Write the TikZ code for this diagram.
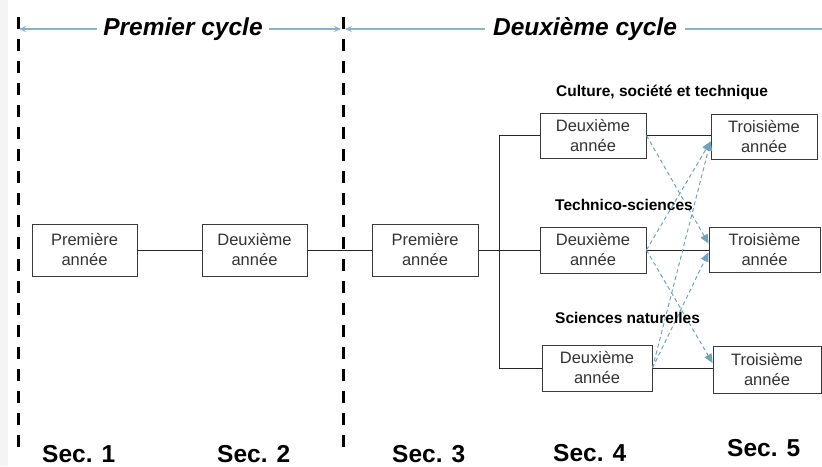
\documentclass[tikz,border=0pt]{standalone}
\usepackage{fontspec}
\setmainfont{Liberation Sans}
\usetikzlibrary{arrows.meta,calc}
\definecolor{arrblue}{HTML}{8AB2C8}
\definecolor{dashblue}{HTML}{6FA3BF}
\definecolor{boxline}{HTML}{3A3A3A}
\definecolor{boxtext}{HTML}{333333}
\begin{document}
\begin{tikzpicture}[x=1pt,y=-1pt,
  yearbox/.style={draw=boxline, line width=0.9pt, fill=white, align=center,
    inner sep=0pt, text=boxtext, font=\fontsize{16.5}{20}\selectfont},
  cyclesep/.style={line width=3pt, dash pattern=on 12pt off 10pt},
  cycletitle/.style={font=\fontsize{24.5}{28}\selectfont\bfseries\itshape, inner xsep=6pt, inner ysep=0pt},
  toparrow/.style={draw=arrblue, line width=1.1pt, -{Stealth[length=7pt,width=6pt]}},
  topline/.style={draw=arrblue, line width=1.1pt},
  link/.style={draw=black!85, line width=0.9pt},
  cross/.style={draw=dashblue, line width=1pt, dash pattern=on 4pt off 3pt,
    -{Triangle[length=9pt,width=8pt]}},
  streamlabel/.style={font=\fontsize{15.5}{18}\selectfont\bfseries, inner sep=0pt, anchor=base west},
  seclabel/.style={font=\fontsize{24.5}{28}\selectfont\bfseries, inner sep=0pt, anchor=base west}
]
\useasboundingbox (0,0) rectangle (822,466);
\fill[gray!9] (0,0) rectangle (8,466);

% vertical separators
\coordinate (v1top) at (18,17);
\coordinate (v1bot) at (18,447);
\coordinate (v2top) at (343,17);
\coordinate (v2bot) at (343,447);
\draw[cyclesep] (v1top) -- (v1bot);
\draw[cyclesep] (v2top) -- (v2bot);

% cycle titles
\node[cycletitle] (pc) at (183,29) {Premier cycle};
\node[cycletitle, inner xsep=8pt] (dc) at (585,29) {Deuxième cycle};
\coordinate (a1) at (19,29);
\coordinate (a2) at (341,29);
\coordinate (a3) at (345,29);
\coordinate (a4) at (822,29);
\draw[toparrow] (pc.west) -- (a1);
\draw[toparrow] (pc.east) -- (a2);
\draw[toparrow] (dc.west) -- (a3);
\draw[topline] (dc.east) -- (a4);

% boxes
\node[yearbox, minimum width=105pt, minimum height=52pt] (p1) at (84.5,250) {Première\\année};
\node[yearbox, minimum width=105pt, minimum height=52pt] (d2) at (254.5,250) {Deuxième\\année};
\node[yearbox, minimum width=106pt, minimum height=52pt] (p3) at (425,250) {Première\\année};

\node[yearbox, minimum width=106pt, minimum height=45pt] (s4a) at (593,135.5) {Deuxième\\année};
\node[yearbox, minimum width=106pt, minimum height=46pt] (s4b) at (593,250) {Deuxième\\année};
\node[yearbox, minimum width=110pt, minimum height=46pt] (s4c) at (597,368) {Deuxième\\année};

\node[yearbox, minimum width=106pt, minimum height=45pt] (s5a) at (764,136.5) {Troisième\\année};
\node[yearbox, minimum width=111pt, minimum height=45pt] (s5b) at (764.5,249.5) {Troisième\\année};
\node[yearbox, minimum width=108pt, minimum height=47pt] (s5c) at (767,370) {Troisième\\année};

% solid links
\draw[link] (p1.east) -- (d2.west);
\draw[link] (d2.east) -- (p3.west);
\draw[link] (p3.east) -- (s4b.west);
\coordinate (br) at (499,135.5);
\draw[link] (s4a.west) -- (br) -- (br |- s4c.west) -- (s4c.west);
\draw[link] (s4a.east) -- (s4a.east -| s5a.west);
\draw[link] (s4b.east) -- (s4b.east -| s5b.west);
\draw[link] (s4c.east) -- (s4c.east -| s5c.west);

% dashed cross links
\draw[cross] (s4a.east) -- ($(s5b.west)+(0,-6)$);
\draw[cross] (s4b.east) -- ($(s5a.west)+(0,5)$);
\draw[cross] (s4c.east) -- ($(s5a.west)+(0,5)$);
\draw[cross] (s4c.east) -- ($(s5b.west)+(0,3)$);
\draw[cross] (s4b.east) -- ($(s5c.west)+(0,-7)$);

% stream labels
\node[streamlabel] (l1) at (556,96) {Culture, société et technique};
\node[streamlabel] (l2) at (555,210) {Technico-sciences};
\node[streamlabel] (l3) at (555,323) {Sciences naturelles};

% section labels
\node[seclabel] (sec1) at (42,462) {Sec. 1};
\node[seclabel] (sec2) at (217,462) {Sec. 2};
\node[seclabel] (sec3) at (392,462) {Sec. 3};
\node[seclabel] (sec4) at (553,461) {Sec. 4};
\node[seclabel] (sec5) at (727,456) {Sec. 5};
\end{tikzpicture}
\end{document}
